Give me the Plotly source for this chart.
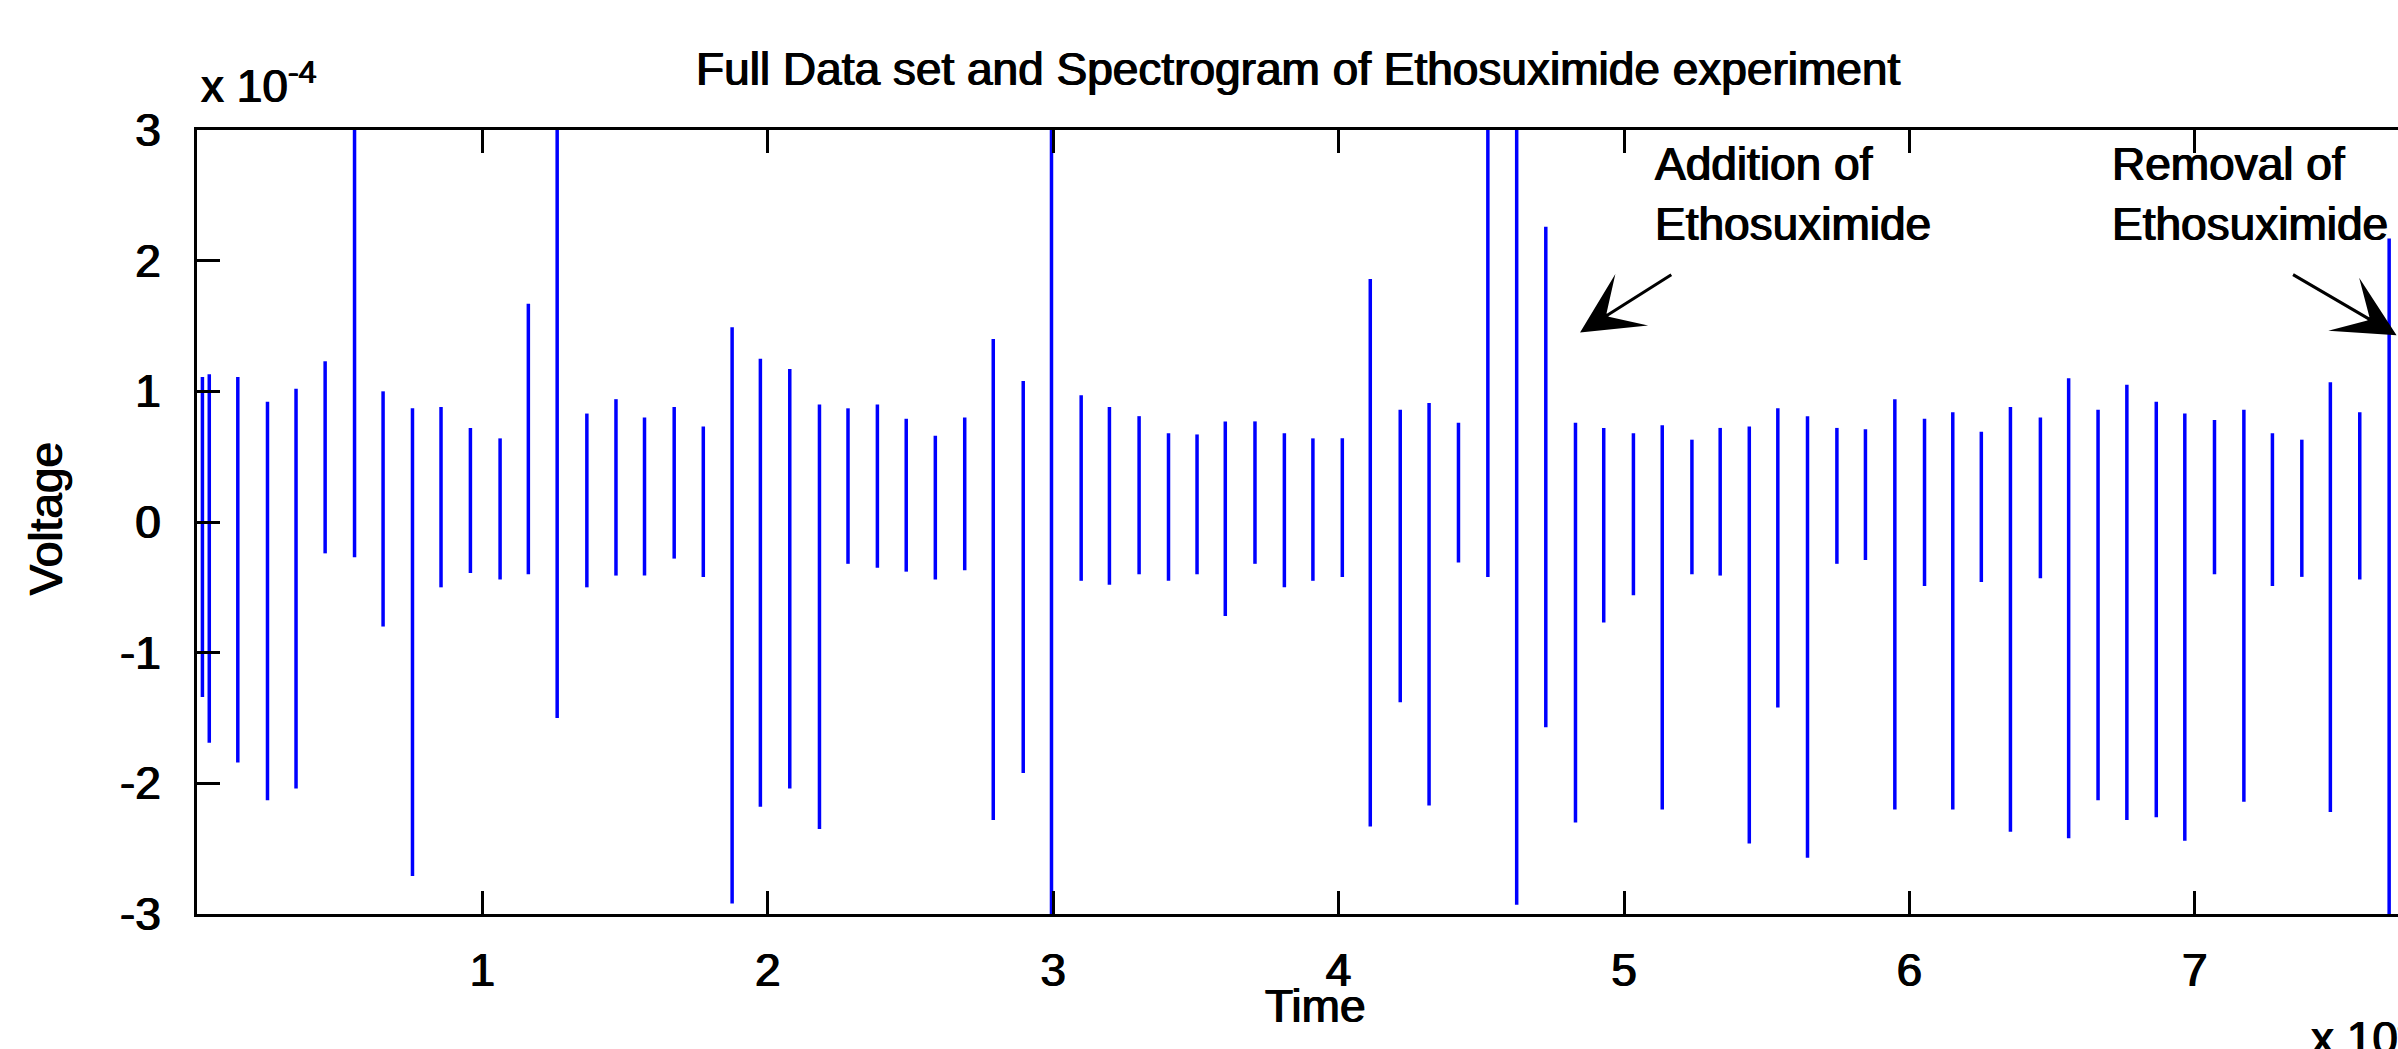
import plotly.graph_objects as go

# Spike times (x 10^4) and voltage extremes (x 10^-4)
spike_time = [0.019, 0.043, 0.143, 0.247, 0.347, 0.449, 0.552, 0.652, 0.755, 0.855,
              0.958, 1.062, 1.161, 1.262, 1.366, 1.468, 1.568, 1.672, 1.774, 1.875,
              1.974, 2.077, 2.181, 2.281, 2.384, 2.485, 2.587, 2.690, 2.790, 2.895,
              2.994, 3.098, 3.197, 3.301, 3.404, 3.504, 3.603, 3.707, 3.810, 3.910,
              4.013, 4.111, 4.216, 4.317, 4.420, 4.523, 4.624, 4.726, 4.830, 4.929,
              5.033, 5.134, 5.238, 5.337, 5.439, 5.539, 5.643, 5.746, 5.846, 5.949,
              6.053, 6.152, 6.252, 6.354, 6.459, 6.558, 6.661, 6.762, 6.865, 6.965,
              7.069, 7.172, 7.272, 7.375, 7.475, 7.578, 7.681]
spike_max = [1.11, 1.13, 1.11, 0.92, 1.02, 1.23, 3.05, 1.00, 0.87, 0.88,
             0.72, 0.64, 1.67, 3.05, 0.83, 0.94, 0.80, 0.88, 0.73, 1.49,
             1.25, 1.17, 0.90, 0.87, 0.90, 0.79, 0.66, 0.80, 1.40, 1.08,
             3.10, 0.97, 0.88, 0.81, 0.68, 0.67, 0.77, 0.77, 0.68, 0.64,
             0.64, 1.86, 0.86, 0.91, 0.76, 3.05, 3.05, 2.26, 0.76, 0.72,
             0.68, 0.74, 0.63, 0.72, 0.73, 0.87, 0.81, 0.72, 0.71, 0.94,
             0.79, 0.84, 0.69, 0.88, 0.80, 1.10, 0.86, 1.05, 0.92, 0.83,
             0.78, 0.86, 0.68, 0.63, 1.07, 0.84, 2.17]
spike_min = [-1.34, -1.69, -1.84, -2.13, -2.04, -0.24, -0.27, -0.80, -2.71, -0.50,
             -0.39, -0.44, -0.40, -1.50, -0.50, -0.41, -0.41, -0.28, -0.42, -2.92,
             -2.18, -2.04, -2.35, -0.32, -0.35, -0.38, -0.44, -0.37, -2.28, -1.92,
             -3.10, -0.45, -0.48, -0.40, -0.45, -0.40, -0.72, -0.32, -0.50, -0.45,
             -0.42, -2.33, -1.38, -2.17, -0.31, -0.42, -2.93, -1.57, -2.30, -0.77,
             -0.56, -2.20, -0.40, -0.41, -2.46, -1.42, -2.57, -0.32, -0.29, -2.20,
             -0.49, -2.20, -0.46, -2.37, -0.43, -2.42, -2.13, -2.28, -2.26, -2.44,
             -0.40, -2.14, -0.49, -0.42, -2.22, -0.44, -3.10]

x_ticks = [1, 2, 3, 4, 5, 6, 7]
y_ticks = [3, 2, 1, 0, -1, -2, -3]
y_tick_labels = ["3", "2", "1", "0", "-1", "-2", "-3"]

xs, ys = [], []
for t, hi, lo in zip(spike_time, spike_max, spike_min):
    xs += [t, t, None]
    ys += [hi, lo, None]

FONT = "Liberation Sans, Arial, Helvetica, sans-serif"
FS = 46
SHADOW = "0.7px 0 0 black, -0.7px 0 0 black"


def f(size=FS):
    return dict(family=FONT, size=size, color="black", shadow=SHADOW)


fig = go.Figure()
fig.add_trace(go.Scatter(x=xs, y=ys, mode="lines",
                         line=dict(color="#0000FF", width=3.5),
                         connectgaps=False, showlegend=False, hoverinfo="skip"))

W, H = 2398, 1049
L, R, T, B = 197, 0, 130, 135
x_max = 7.712

fig.update_layout(
    width=W, height=H, autosize=False,
    margin=dict(l=L, r=R, t=T, b=B, pad=0),
    paper_bgcolor="white", plot_bgcolor="white",
    font=dict(family=FONT, size=FS, color="black"),
    showlegend=False,
)
fig.update_xaxes(range=[0, x_max], tickvals=x_ticks, ticktext=[str(v) for v in x_ticks],
                 ticks="inside", ticklen=23, tickwidth=2.5, tickcolor="black",
                 showline=True, linewidth=3, linecolor="black", mirror="ticks",
                 showgrid=False, zeroline=False, ticklabelstandoff=14,
                 tickfont=f())
fig.update_yaxes(range=[-3, 3], tickvals=y_ticks, ticktext=y_tick_labels,
                 ticks="inside", ticklen=23, tickwidth=2.5, tickcolor="black",
                 showline=True, linewidth=3, linecolor="black", mirror=False,
                 showgrid=False, zeroline=False, ticklabelstandoff=24,
                 tickfont=f())

ann = []
# title
ann.append(dict(text="Full Data set and Spectrogram of Ethosuximide experiment",
                xref="x", yref="paper", x=3.858, y=1, yshift=61,
                xanchor="center", yanchor="middle", showarrow=False, font=f()))
# exponent labels
ann.append(dict(text="x 10<sup>-4</sup>", xref="paper", yref="paper", x=0, y=1,
                xshift=2, yshift=16, xanchor="left", yanchor="bottom",
                showarrow=False, font=f()))
ann.append(dict(text="x 10<sup>4</sup>", xref="x", yref="paper", x=7.40, y=0,
                yshift=-121, xanchor="left", yanchor="middle",
                showarrow=False, font=f()))
# axis labels
ann.append(dict(text="Time", xref="x", yref="paper", x=3.918, y=0, yshift=-92,
                xanchor="center", yanchor="middle", showarrow=False, font=f()))
ann.append(dict(text="Voltage", xref="paper", yref="y", x=0, y=0.02, xshift=-151,
                xanchor="center", yanchor="middle", textangle=-90,
                showarrow=False, font=f()))
# event labels
ann.append(dict(text="Addition of<br>Ethosuximide", xref="x", yref="y",
                x=5.102, y=2.51, xanchor="left", yanchor="middle", align="left",
                showarrow=False, font=f()))
ann.append(dict(text="Removal of<br>Ethosuximide", xref="x", yref="y",
                x=6.703, y=2.51, xanchor="left", yanchor="middle", align="left",
                showarrow=False, font=f()))
# arrows
ann.append(dict(text="", xref="x", yref="y", axref="x", ayref="y",
                x=4.846, y=1.45, ax=5.171, ay=1.90, showarrow=True,
                arrowhead=3, arrowsize=3.4, arrowwidth=3, arrowcolor="black"))
ann.append(dict(text="", xref="x", yref="y", axref="x", ayref="y",
                x=7.707, y=1.43, ax=7.339, ay=1.90, showarrow=True,
                arrowhead=3, arrowsize=3.4, arrowwidth=3, arrowcolor="black"))
fig.update_layout(annotations=ann)

fig.write_html("out.html")
